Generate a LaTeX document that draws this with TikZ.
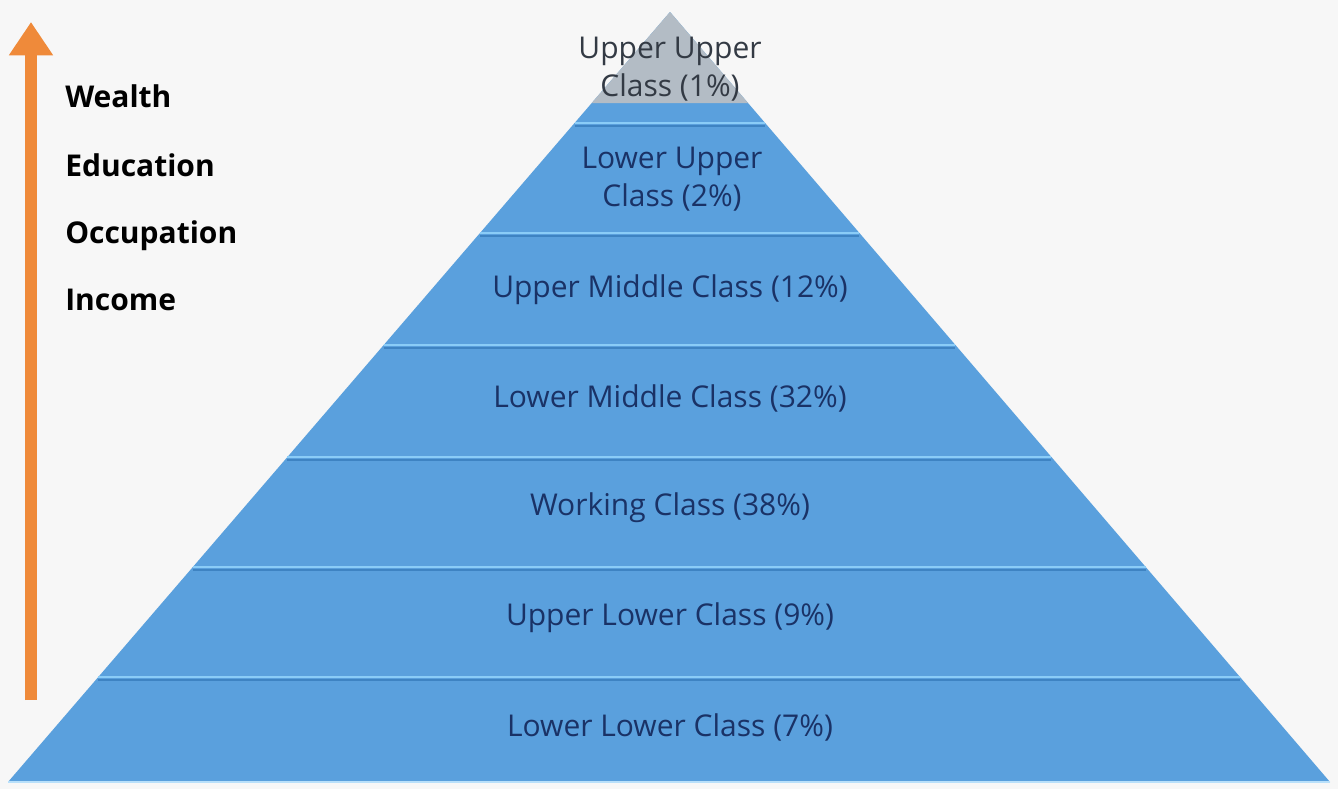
\documentclass[tikz,border=0pt]{standalone}
\usepackage{fontspec}
\setmainfont{Open Sans}
\usetikzlibrary{calc,arrows.meta}
\definecolor{bg}{HTML}{F7F7F7}
\definecolor{pyr}{HTML}{5AA0DD}
\definecolor{sepl}{HTML}{8ACCF7}
\definecolor{sepd}{HTML}{3E83C2}
\definecolor{navy}{HTML}{1A3266}
\definecolor{toptext}{HTML}{333A44}
\definecolor{arr}{HTML}{EF8A3A}
\definecolor{tipgray}{HTML}{B3BCC5}
\begin{document}
\begin{tikzpicture}[x=0.75pt,y=-0.75pt,
  layertext/.style={font=\fontsize{22.5}{28.5}\selectfont, text=navy, align=center, inner sep=0pt},
  sidelabel/.style={font=\bfseries\fontsize{22.5}{27}\selectfont, text=black, anchor=base west, inner sep=0pt},
  seplight/.style={draw=sepl, line width=2pt},
  sepdark/.style={draw=sepd, line width=0.9pt}]
\fill[bg] (0,0) rectangle (1338,789);
\useasboundingbox (0,0) rectangle (1338,789);
% pyramid
\coordinate (apex) at (670,12);
\coordinate (bl) at (8,782);
\coordinate (br) at (1330,782);
\fill[pyr] (apex) -- (bl) -- (br) -- cycle;
\fill[tipgray] (apex) -- ($(apex)!0.1182!(bl)$) -- ($(apex)!0.1182!(br)$) -- cycle;
\foreach \t in {0.1442,0.2870,0.4325,0.5779,0.7208,0.8636}{
  \draw[seplight] ($(apex)!\t!(bl)$) -- ($(apex)!\t!(br)$);
  \draw[sepdark] ($(apex)!\t!(bl)+(0,3)$) -- ($(apex)!\t!(br)+(0,3)$);
}
\draw[sepl!60!white, line width=1.2pt] (bl) -- (br);
% layer labels
\node[layertext, text=toptext] (l1) at (670,69) {Upper Upper\\Class (1\%)};
\node[layertext] (l2) at (672,179) {Lower Upper\\Class (2\%)};
\node[layertext] (l3) at (670,290) {Upper Middle Class (12\%)};
\node[layertext] (l4) at (670,398) {Lower Middle Class (32\%)};
\node[layertext] (l5) at (670,508) {Working Class (38\%)};
\node[layertext] (l6) at (670,618) {Upper Lower Class (9\%)};
\node[layertext] (l7) at (670,727) {Lower Lower Class (7\%)};
% arrow
\coordinate (abot) at (31,700);
\coordinate (atop) at (31,22);
\draw[arr, line width=9pt, -{Triangle[width=31.5pt,length=25pt]}] (abot) -- (atop);
% side labels
\node[sidelabel] (wealth) at (65,107) {Wealth};
\node[sidelabel] (education) at (65,176) {Education};
\node[sidelabel] (occupation) at (65,243) {Occupation};
\node[sidelabel] (income) at (65,310) {Income};
\end{tikzpicture}
\end{document}
